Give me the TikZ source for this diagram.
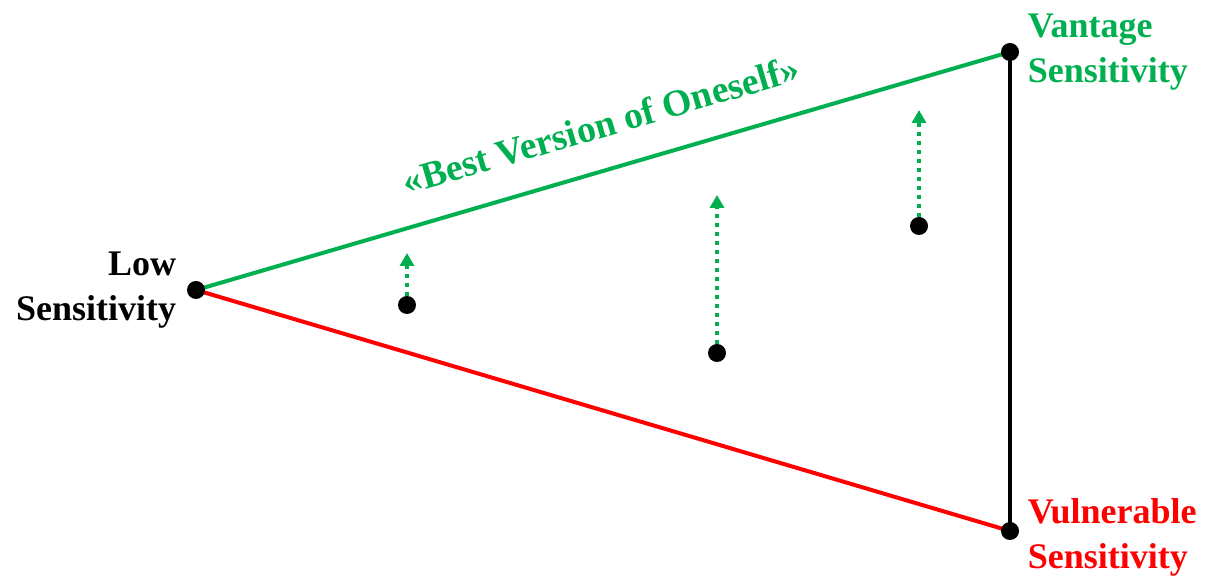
\documentclass[tikz,border=0pt]{standalone}
\usepackage{fontspec}
\setmainfont{Liberation Serif}
\usetikzlibrary{arrows.meta,positioning}
\definecolor{vgreen}{HTML}{00B050}
\definecolor{vred}{HTML}{FF0000}
\begin{document}
\begin{tikzpicture}[x=0.5pt,y=0.5pt,
    dot/.style={circle,fill=black,inner sep=0pt,minimum size=9pt},
    lbl/.style={font=\bfseries\fontsize{18}{22.5}\selectfont,inner sep=0pt},
    rise/.style={vgreen,line width=2pt,dash pattern=on 2pt off 2.5pt,
        -{Triangle[width=7pt,length=6.5pt]}}]
    \useasboundingbox (0,0) rectangle (1217,578);
    \coordinate (low) at (196,288);
    \coordinate (vant) at (1010,526);
    \coordinate (vuln) at (1010,47);
    % triangle
    \draw[line width=2pt,vgreen] (low) -- (vant) coordinate[midway] (mid);
    \draw[line width=2pt,vred] (low) -- (vuln);
    \draw[line width=2pt] (vant) -- (vuln);
    \node[lbl,text=vgreen,font=\bfseries\fontsize{18.9}{22.5}\selectfont,
        rotate=16.3,anchor=south] (best) at ([shift={(0.8pt,16.4pt)}]mid)
        {«Best Version of Oneself»};
    \node[dot] (lowdot) at (low) {};
    \node[dot] (vantdot) at (vant) {};
    \node[dot] (vulndot) at (vuln) {};
    \node[lbl,left=5pt of lowdot,align=right] (lowlbl) {Low\\Sensitivity};
    \node[lbl,right=4pt of vantdot,align=left,text=vgreen] (vantlbl) {Vantage\\Sensitivity};
    \node[lbl,right=4pt of vulndot,align=left,text=vred,yshift=-3pt] (vulnlbl) {Vulnerable\\Sensitivity};
    % individuals and their rise
    \foreach \x/\y/\t [count=\i] in {407/273/325, 717/225/383, 919/352/468} {
        \node[dot] (p\i) at (\x,\y) {};
        \coordinate (t\i) at (\x,\t);
        \draw[rise] (p\i.north) -- (t\i);
    }
\end{tikzpicture}
\end{document}
